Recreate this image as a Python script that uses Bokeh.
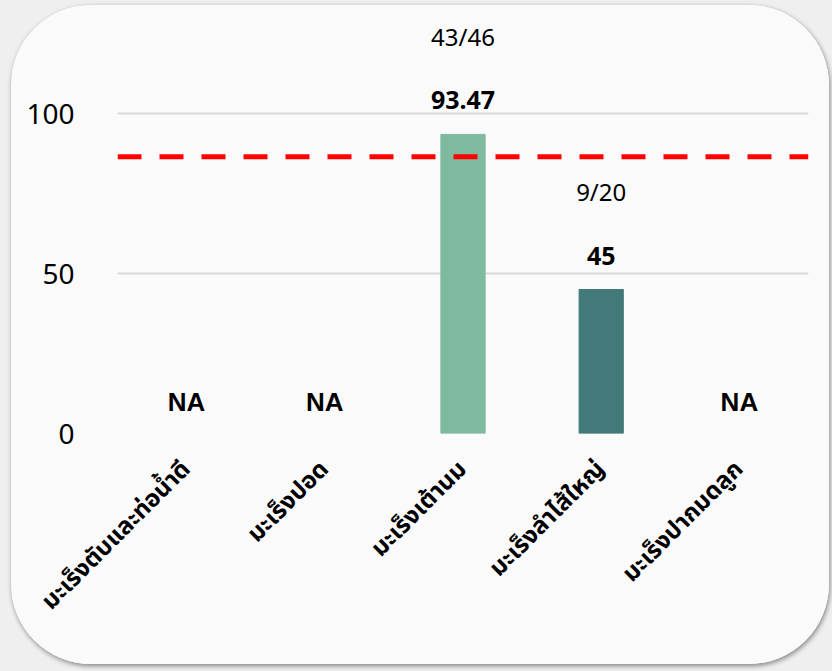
import math
from bokeh.plotting import figure
from bokeh.models import ColumnDataSource, Range1d, FixedTicker, Span
from bokeh.layouts import column
from bokeh.core.properties import value
from bokeh.embed import file_html
from bokeh.resources import INLINE

categories = ["มะเร็งตับและท่อน้ำดี", "มะเร็งปอด", "มะเร็งเต้านม", "มะเร็งลำไส้ใหญ่", "มะเร็งปากมดลูก"]
values = [None, None, 93.47, 45, None]
fractions = ["", "", "43/46", "9/20", ""]
target = 86.5
bar_colors = ["#7fb9a0", "#7fb9a0", "#7fb9a0", "#417a78", "#417a78"]

p = figure(x_range=categories, y_range=Range1d(0, 128.125), width=818, height=659,
           output_backend="svg", toolbar_location=None,
           min_border_left=106, min_border_right=21, min_border_top=18, min_border_bottom=231)
p.margin = (5, 3, 7, 11)
p.styles = {"border-radius": "80px", "overflow": "hidden", "background-color": "#fafafa",
            "box-shadow": "1px 2px 5px rgba(0,0,0,0.45)"}
p.background_fill_color = "#fafafa"
p.background_fill_alpha = 1
p.border_fill_color = "#fafafa"
p.border_fill_alpha = 1
p.outline_line_color = None

bx = [c for c, v in zip(categories, values) if v is not None]
bv = [v for v in values if v is not None]
bc = [col for col, v in zip(bar_colors, values) if v is not None]
bars = ColumnDataSource(dict(x=bx, top=bv, color=bc,
                             label=[("%g" % v) for v in bv],
                             frac=[f for f, v in zip(fractions, values) if v is not None]))
p.vbar(x="x", top="top", width=0.32, color="color", source=bars)

p.text(x="x", y="top", text="label", source=bars, y_offset=-34,
       text_align="center", text_baseline="middle", text_font=value("Noto Sans"),
       text_font_style="bold", text_font_size="25px", text_color="black")
p.text(x="x", y="top", text="frac", source=bars, y_offset=-98,
       text_align="center", text_baseline="middle", text_font=value("Noto Sans"),
       text_font_size="24px", text_color="black")

na_x = [c for c, v in zip(categories, values) if v is None]
na = ColumnDataSource(dict(x=na_x, y=[0] * len(na_x), t=["NA"] * len(na_x)))
p.text(x="x", y="y", text="t", source=na, y_offset=-32,
       text_align="center", text_baseline="middle", text_font=value("Liberation Sans"),
       text_font_style="bold", text_font_size="26px", text_color="black")

p.add_layout(Span(location=target, dimension="width", line_color="#ff0000",
                  line_width=5, line_dash="24 18"))

p.xgrid.grid_line_color = None
p.ygrid.grid_line_color = "#d9d9d9"
p.ygrid.grid_line_width = 2
p.yaxis.ticker = FixedTicker(ticks=[0, 50, 100])
for ax in (p.xaxis, p.yaxis):
    ax.axis_line_color = None
    ax.major_tick_line_color = None
    ax.minor_tick_line_color = None
p.yaxis.major_label_standoff = 37
p.yaxis.major_label_text_font = "Noto Sans"
p.yaxis.major_label_text_font_size = "28px"
p.yaxis.major_label_text_color = "black"
p.xaxis.major_label_orientation = math.pi / 4
p.xaxis.major_label_standoff = 26
p.xaxis.major_label_text_font = "Noto Sans Thai, Noto Sans, sans-serif"
p.xaxis.major_label_text_font_style = "bold"
p.xaxis.major_label_text_font_size = "24px"
p.xaxis.major_label_text_color = "black"

layout = column(p, styles={"background-color": "#efefef"})
open("out.html", "w").write(file_html(layout, INLINE))
